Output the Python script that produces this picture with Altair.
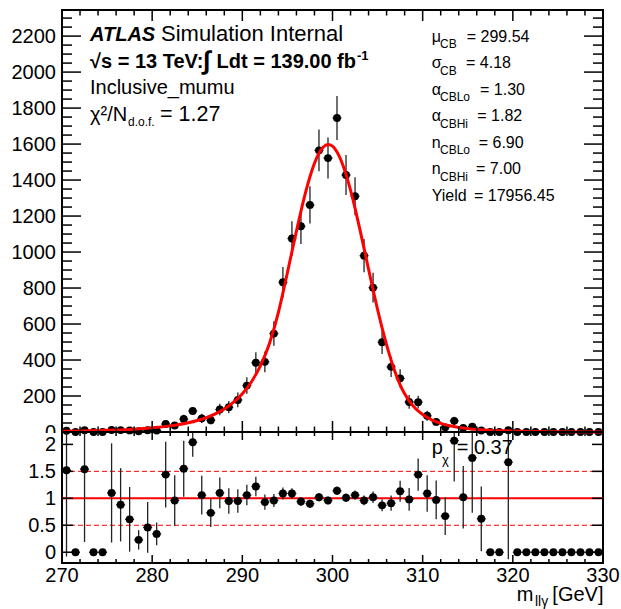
import altair as alt
import pandas as pd
import numpy as np

# ---------------- data ----------------
bin_centers = [270.5 + i for i in range(60)]
counts = [7.1, 0, 9.7, 0, 0, 11.3, 10.6, 8.9, 4.0, 9.7,
          8.6, 44.4, 36.2, 71.9, 117, 75.9, 65.6, 125, 138, 178,
          258, 385, 390, 547, 832, 1075, 1143, 1262, 1565, 1522,
          1745, 1428, 1310, 980, 802, 499, 362, 298, 167, 166,
          90, 56, 26, 62, 23, 30, 8, 0, 0, 9.5,
          0, 0, 0, 0, 0, 0, 0, 0, 0, 0]
count_err = [7.5, 0, 8.5, 0, 0, 9.5, 8.2, 8.8, 3.1, 9.9,
             5.3, 18.8, 17.7, 24, 15.5, 26, 23, 32, 34, 41,
             46, 58, 58, 68, 85, 96, 99, 104, 116, 114,
             122, 111, 106, 92, 83, 65, 56, 51, 38, 35,
             27.5, 20.5, 14, 22.6, 12.7, 16.6, 7.4, 0, 0, 10,
             0, 0, 0, 0, 0, 0, 0, 0, 0, 0]
ratio = [1.52, 0, 1.54, 0, 0, 1.10, 0.88, 0.61, 0.23, 0.46,
         0.34, 1.44, 0.96, 1.55, 2.04, 1.06, 0.73, 1.10, 0.95, 0.95,
         1.06, 1.22, 0.93, 0.96, 1.09, 1.09, 0.94, 0.90, 1.02, 0.96,
         1.14, 1.01, 1.06, 0.96, 1.02, 0.87, 0.91, 1.13, 0.98, 1.44,
         1.09, 0.97, 0.67, 2.07, 1.02, 1.75, 0.62, 0, 0, 1.67,
         0, 0, 0, 0, 0, 0, 0, 0, 0, 0]
ratio_err = [1.6, 0, 1.35, 0, 0, 0.92, 0.68, 0.60, 0.18, 0.47,
             0.21, 0.61, 0.47, 0.52, 0.27, 0.36, 0.26, 0.285, 0.235, 0.22,
             0.19, 0.18, 0.14, 0.12, 0.11, 0.096, 0.081, 0.073, 0.075, 0.071,
             0.078, 0.078, 0.085, 0.09, 0.105, 0.112, 0.14, 0.195, 0.21, 0.30,
             0.34, 0.36, 0.35, 0.76, 0.58, 1.02, 0.60, 0, 0, 1.8,
             0, 0, 0, 0, 0, 0, 0, 0, 0, 0]

curve_m = [270, 272, 274, 276, 278, 280, 282, 283, 284, 285, 286, 287, 288, 289,
           290, 291, 292, 293, 294, 294.5, 295, 295.5, 296, 296.5, 297, 297.5,
           298, 298.5, 299, 299.5, 300, 300.5, 301, 301.5, 302, 302.5, 303,
           303.5, 304, 304.5, 305, 305.5, 306, 306.5, 307, 307.5, 308, 308.5,
           309, 309.5, 310, 311, 312, 313, 314, 315, 316, 318, 320, 322, 325, 330]
curve_y = [4.3, 5.8, 8.0, 11.2, 15.9, 23.0, 34.0, 41.7, 51.5, 64.0, 80.0, 100.9, 128.2, 164.3,
           212.7, 278.0, 367.0, 490.6, 664.2, 772.5, 886.0, 1001.7, 1116.5, 1226.6, 1328.6, 1418.5,
           1493.2, 1549.3, 1584.7, 1597.9, 1588.3, 1556.4, 1503.4, 1431.6, 1343.9, 1243.6, 1134.5,
           1020.2, 904.4, 790.3, 680.9, 578.2, 484.1, 399.5, 325.0, 262.0, 212.4, 173.3,
           142.2, 117.2, 97.2, 67.8, 48.1, 34.7, 25.4, 18.8, 14.1, 8.2, 5.0, 3.1, 1.6, 0.6]

x_major = [270, 280, 290, 300, 310, 320, 330]
x_minor = [272, 274, 276, 278, 282, 284, 286, 288, 292, 294, 296, 298,
           302, 304, 306, 308, 312, 314, 316, 318, 322, 324, 326, 328]
y_top_major = [0, 200, 400, 600, 800, 1000, 1200, 1400, 1600, 1800, 2000, 2200]
y_top_minor = [v for v in range(50, 2301, 50) if v % 200 != 0]
y_bot_major = [0, 0.5, 1, 1.5, 2]
y_bot_labels = ["0", "0.5", "1", "1.5", "2"]

# ---------------- layout ----------------
W, H_TOP, H_BOT = 541, 422, 131
H = H_TOP + H_BOT
FONT = "Liberation Sans"
RED = "#ff0000"
ERR = "#222222"

xs = alt.Scale(domain=[270, 330], nice=False, zero=False)
ys_top = alt.Scale(domain=[0, 2345], range=[H_TOP, 0], nice=False, zero=False)
ys_bot = alt.Scale(domain=[-0.2, 2.23], range=[H, H_TOP], nice=False, zero=False)

df_top = pd.DataFrame({"m": bin_centers, "n": counts, "e": count_err})
df_top["m_lo"] = df_top["m"] - 0.5
df_top["m_hi"] = df_top["m"] + 0.5
df_top["n_lo"] = (df_top["n"] - df_top["e"]).clip(lower=0)
df_top["n_hi"] = df_top["n"] + df_top["e"]

df_bot = pd.DataFrame({"m": bin_centers, "r": ratio, "e": ratio_err})
df_bot["m_lo"] = df_bot["m"] - 0.5
df_bot["m_hi"] = df_bot["m"] + 0.5
df_bot["r_lo"] = (df_bot["r"] - df_bot["e"]).clip(-0.2, 2.23)
df_bot["r_hi"] = (df_bot["r"] + df_bot["e"]).clip(-0.2, 2.23)

df_curve = pd.DataFrame({"m": curve_m, "f": curve_y})


def X(field):
    return alt.X(field, scale=xs, axis=None)


def xticks(vals, y0, y1, sw=1.5):
    return alt.Chart(pd.DataFrame({"v": vals})).mark_rule(color="black", strokeWidth=sw).encode(
        x=X("v:Q"), y=alt.value(y0), y2=alt.value(y1))


def yticks(vals, scale, x0, x1, sw=1.5):
    return alt.Chart(pd.DataFrame({"v": vals})).mark_rule(color="black", strokeWidth=sw).encode(
        y=alt.Y("v:Q", scale=scale, axis=None), x=alt.value(x0), x2=alt.value(x1))


def txt(s, x, y, size=20, bold=False, italic=False, align="left"):
    return alt.Chart(pd.DataFrame({"t": [s]})).mark_text(
        align=align, baseline="alphabetic", font=FONT, fontSize=size,
        fontWeight="bold" if bold else "normal",
        fontStyle="italic" if italic else "normal", color="black"
    ).encode(text="t:N", x=alt.value(x), y=alt.value(y))


# ---------------- top panel ----------------
top_xerr = alt.Chart(df_top).mark_rule(color=ERR, strokeWidth=1.3).encode(
    x=X("m_lo:Q"), x2="m_hi:Q", y=alt.Y("n:Q", scale=ys_top, axis=None))
top_yerr = alt.Chart(df_top).mark_rule(color=ERR, strokeWidth=1.3).encode(
    x=X("m:Q"), y=alt.Y("n_lo:Q", scale=ys_top, axis=None), y2="n_hi:Q")
top_pts = alt.Chart(df_top).mark_circle(size=62, color="black", opacity=1).encode(
    x=X("m:Q"), y=alt.Y("n:Q", scale=ys_top, axis=None))
top_curve = alt.Chart(df_curve).mark_line(color=RED, strokeWidth=3, interpolate="monotone").encode(
    x=X("m:Q"), y=alt.Y("f:Q", scale=ys_top, axis=None))

top_ylab = alt.Chart(pd.DataFrame({"v": y_top_major, "lab": [str(v) for v in y_top_major]})).mark_text(
    align="right", baseline="alphabetic", font=FONT, fontSize=20, dy=7, color="black").encode(
    y=alt.Y("v:Q", scale=ys_top, axis=None), x=alt.value(-6), text="lab:N")
clip_rect = alt.Chart(pd.DataFrame({"a": [0]})).mark_rect(color="white").encode(
    x=alt.value(-45), x2=alt.value(-2), y=alt.value(H_TOP + 1), y2=alt.value(H_TOP + 10))

top = alt.layer(
    top_xerr, top_yerr, top_pts, top_curve,
    yticks(y_top_major, ys_top, 0, 19), yticks(y_top_minor, ys_top, 0, 10),
    yticks(y_top_major, ys_top, W, W - 19), yticks(y_top_minor, ys_top, W, W - 10),
    xticks(x_major, 0, 11), xticks(x_minor, 0, 5.5),
    xticks(x_major, H_TOP, H_TOP - 11), xticks(x_minor, H_TOP, H_TOP - 5.5),
    top_ylab, clip_rect,
)

# ---------------- ratio panel ----------------
lines_df = pd.DataFrame({"v": [1.0]})
dash_df = pd.DataFrame({"v": [0.5, 1.5]})
bot_one = alt.Chart(lines_df).mark_rule(color=RED, strokeWidth=2).encode(
    y=alt.Y("v:Q", scale=ys_bot, axis=None), x=alt.value(0), x2=alt.value(W))
bot_dash = alt.Chart(dash_df).mark_rule(color=RED, strokeWidth=1, strokeDash=[5, 3]).encode(
    y=alt.Y("v:Q", scale=ys_bot, axis=None), x=alt.value(0), x2=alt.value(W))
bot_xerr = alt.Chart(df_bot).mark_rule(color=ERR, strokeWidth=1.3).encode(
    x=X("m_lo:Q"), x2="m_hi:Q", y=alt.Y("r:Q", scale=ys_bot, axis=None))
bot_yerr = alt.Chart(df_bot).mark_rule(color=ERR, strokeWidth=1.3).encode(
    x=X("m:Q"), y=alt.Y("r_lo:Q", scale=ys_bot, axis=None), y2="r_hi:Q")
bot_pts = alt.Chart(df_bot).mark_circle(size=62, color="black", opacity=1).encode(
    x=X("m:Q"), y=alt.Y("r:Q", scale=ys_bot, axis=None))
bot_ylab = alt.Chart(pd.DataFrame({"v": y_bot_major, "lab": y_bot_labels})).mark_text(
    align="right", baseline="alphabetic", font=FONT, fontSize=20, dy=7, color="black").encode(
    y=alt.Y("v:Q", scale=ys_bot, axis=None), x=alt.value(-6), text="lab:N")
xlab = alt.Chart(pd.DataFrame({"v": x_major, "lab": [str(v) for v in x_major]})).mark_text(
    align="center", baseline="alphabetic", font=FONT, fontSize=20, color="black").encode(
    x=X("v:Q"), y=alt.value(H + 19), text="lab:N")

bottom = alt.layer(
    bot_dash, bot_one, bot_xerr, bot_yerr, bot_pts,
    yticks(y_bot_major, ys_bot, 0, 11), yticks(y_bot_major, ys_bot, W, W - 11),
    xticks(x_major, H_TOP, H_TOP + 8), xticks(x_minor, H_TOP, H_TOP + 4),
    xticks(x_major, H, H - 8), xticks(x_minor, H, H - 4),
    bot_ylab, xlab,
)

separator = alt.Chart(pd.DataFrame({"a": [0]})).mark_rule(color="black", strokeWidth=2).encode(
    x=alt.value(0), x2=alt.value(W), y=alt.value(H_TOP))

# ---------------- annotations ----------------
ann = [
    txt("ATLAS", 28, 31, bold=True, italic=True),
    txt("Simulation Internal", 99, 31, size=22),
    txt("√s = 13 TeV:", 28, 57.5, bold=True),
    txt("∫", 141, 59, size=26, bold=True),
    txt("Ldt = 139.00 fb", 154.5, 57.5, bold=True),
    txt("-1", 295, 50, size=13, bold=True),
    txt("Inclusive_mumu", 28, 84),
    txt("χ²/N", 28, 110.5),
    txt("d.o.f.", 66, 116, size=12),
    txt("= 1.27", 98, 110.5, size=21.5),
]
stats = [
    ("μ", "CB", "= 299.54", 404.7),
    ("σ", "CB", "= 4.18", 404.0),
    ("α", "CBLo", "= 1.30", 418.0),
    ("α", "CBHi", "= 1.82", 415.3),
    ("n", "CBLo", "= 6.90", 416.7),
    ("n", "CBHi", "= 7.00", 414.0),
]
for k, (sym, sub, val, xeq) in enumerate(stats):
    yb = 31.5 + 26.5 * k
    ann.append(txt(sym, 369.7, yb, size=16))
    ann.append(txt(sub, 378, yb + 6.5, size=12))
    ann.append(txt(val, xeq, yb, size=16))
ann.append(txt("Yield", 369.7, 31.5 + 26.5 * 6, size=16))
ann.append(txt("= 17956.45", 412, 31.5 + 26.5 * 6, size=16))

ann += [
    txt("p", 369.7, 443.5),
    txt("χ", 380, 453.5, size=13),
    txt("= 0.37", 394.7, 443.5),
    txt("m", 454.7, 590.5),
    txt("llγ", 473, 596, size=14),
    txt("[GeV]", 541.5, 590.5, align="right"),
]

chart = alt.layer(top, bottom, separator, *ann).resolve_scale(y="independent").properties(
    width=W, height=H,
    autosize=alt.AutoSizeParams(type="none"),
    padding={"left": 62, "top": 10, "right": 18, "bottom": 46},
).configure_view(stroke="black", strokeWidth=2)

chart.save("out.html", embed_options={"renderer": "svg", "actions": False})
